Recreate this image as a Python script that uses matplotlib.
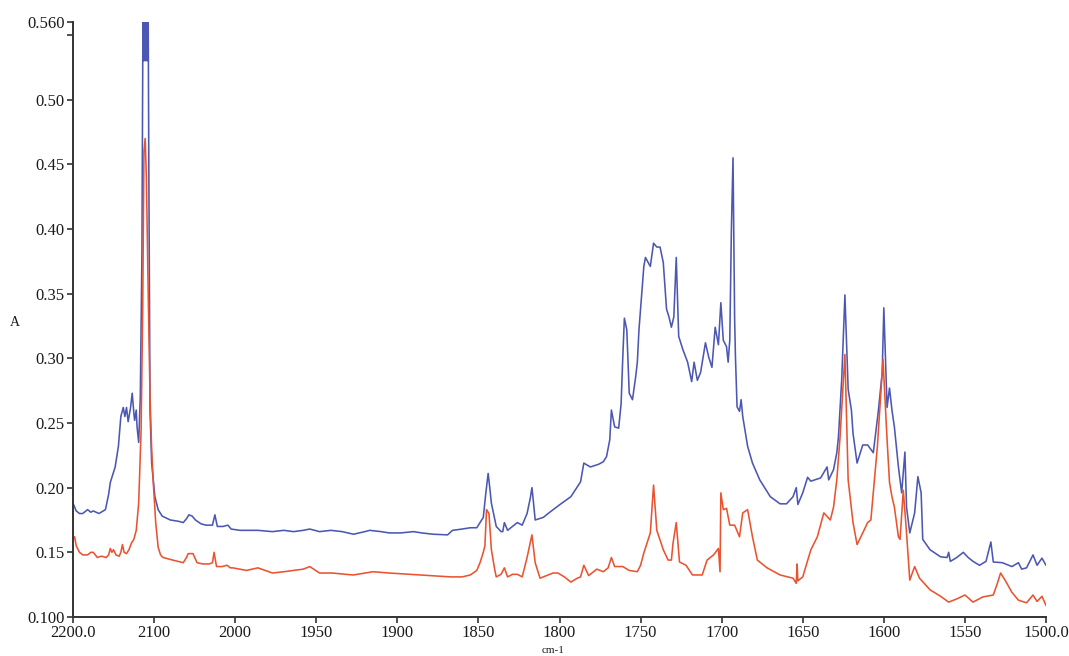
import numpy as np
import matplotlib
matplotlib.use("Agg")
import matplotlib.pyplot as plt

# wavenumber (cm-1) / absorbance pairs
blue_wn = [2200, 2196, 2192, 2188, 2182, 2178, 2175, 2168, 2160, 2156, 2154, 2150, 2148, 2144,
           2141, 2138, 2136, 2134, 2132, 2129, 2127, 2125, 2124, 2122, 2121, 2119, 2117, 2115,
           2113.5, 2112.5, 2111.5, 2110.5, 2109.5, 2108.5, 2107.5, 2106.5, 2105, 2103, 2099,
           2095, 2090, 2080, 2070, 2064, 2060, 2057, 2053, 2049, 2042, 2036, 2028, 2025, 2022,
           2015, 2009, 2005, 1997, 1990, 1986, 1977, 1970, 1964, 1958, 1954, 1948, 1941, 1934,
           1927, 1920, 1917, 1910, 1905, 1898, 1890, 1885, 1878, 1869, 1866, 1860, 1855, 1851,
           1848, 1847, 1845.5, 1844, 1843, 1842, 1839, 1836, 1835, 1834, 1832, 1829, 1826, 1823,
           1820, 1818, 1817, 1816, 1815, 1810, 1806, 1800, 1793, 1787, 1785, 1781, 1776, 1773,
           1771, 1769, 1768, 1766, 1763.5, 1762, 1761, 1760, 1758.5, 1757, 1755, 1753, 1752,
           1751, 1748, 1747, 1744, 1742, 1740, 1738, 1736, 1734, 1732.5, 1731, 1729.5, 1728,
           1726.5, 1724, 1721, 1718.5, 1717, 1715, 1713, 1710, 1708, 1706, 1704, 1702, 1700.5,
           1699, 1697, 1696, 1695, 1694, 1693, 1692, 1691.5, 1690.5, 1689, 1688, 1687, 1684,
           1681, 1676.5, 1670, 1664, 1660, 1656, 1654, 1653, 1650, 1647, 1645, 1639, 1635, 1634,
           1631, 1629, 1628, 1626, 1624, 1622, 1620, 1619, 1616.5, 1613, 1610, 1606.5, 1603.5,
           1601, 1600, 1598, 1596.5, 1595, 1593.5, 1591, 1589, 1587, 1586, 1584, 1581, 1579,
           1577, 1576, 1571.5, 1565, 1561, 1560, 1559, 1555, 1551, 1548, 1545, 1541, 1537, 1534,
           1532.5, 1527, 1521, 1517, 1515, 1512, 1508, 1505.5, 1502.5, 1500]
blue_abs = [0.188, 0.182, 0.180, 0.180, 0.183, 0.181, 0.182, 0.180, 0.183, 0.195, 0.204, 0.212,
            0.216, 0.232, 0.255, 0.262, 0.255, 0.262, 0.251, 0.262, 0.273, 0.258, 0.252, 0.260,
            0.247, 0.235, 0.27, 0.38, 0.60, 0.53, 0.60, 0.53, 0.60, 0.53, 0.60, 0.45, 0.260,
            0.219, 0.193, 0.183, 0.178, 0.175, 0.174, 0.173, 0.176, 0.179, 0.178, 0.175, 0.172,
            0.171, 0.171, 0.179, 0.170, 0.170, 0.171, 0.168, 0.167, 0.167, 0.167, 0.166, 0.167,
            0.166, 0.167, 0.168, 0.166, 0.167, 0.166, 0.164, 0.166, 0.167, 0.166, 0.165, 0.165,
            0.166, 0.165, 0.164, 0.1635, 0.167, 0.168, 0.169, 0.169, 0.175, 0.177, 0.195, 0.211,
            0.200, 0.188, 0.170, 0.166, 0.166, 0.173, 0.167, 0.170, 0.173, 0.171, 0.180, 0.192,
            0.200, 0.188, 0.175, 0.177, 0.181, 0.1867, 0.193, 0.2045, 0.219, 0.216, 0.218, 0.220,
            0.224, 0.237, 0.260, 0.247, 0.246, 0.265, 0.300, 0.331, 0.322, 0.273, 0.268, 0.286,
            0.297, 0.322, 0.371, 0.378, 0.371, 0.389, 0.386, 0.386, 0.374, 0.338, 0.332, 0.324,
            0.332, 0.378, 0.317, 0.307, 0.297, 0.282, 0.297, 0.283, 0.289, 0.312, 0.301, 0.293,
            0.324, 0.3105, 0.343, 0.314, 0.309, 0.297, 0.314, 0.40, 0.455, 0.33, 0.301, 0.2625,
            0.259, 0.268, 0.255, 0.232, 0.219, 0.206, 0.193, 0.1875, 0.1875, 0.193, 0.200, 0.187,
            0.196, 0.208, 0.205, 0.2075, 0.216, 0.206, 0.214, 0.227, 0.239, 0.283, 0.349, 0.276,
            0.260, 0.242, 0.219, 0.233, 0.233, 0.227, 0.258, 0.289, 0.339, 0.262, 0.277, 0.260,
            0.247, 0.216, 0.196, 0.2275, 0.185, 0.165, 0.1805, 0.2085, 0.196, 0.160, 0.152,
            0.1465, 0.146, 0.150, 0.143, 0.146, 0.150, 0.146, 0.143, 0.140, 0.143, 0.158, 0.1425,
            0.142, 0.139, 0.142, 0.137, 0.138, 0.148, 0.140, 0.1455, 0.140]

red_wn = [2200, 2198, 2196, 2192, 2188, 2182, 2178, 2175, 2170, 2165, 2159, 2156, 2154, 2152,
          2150, 2147, 2143, 2141, 2139, 2137, 2134, 2131, 2128, 2125, 2122, 2119, 2116, 2114,
          2112.5, 2111, 2109.5, 2107.5, 2105, 2103, 2101, 2098, 2095, 2092, 2089, 2077, 2064,
          2060, 2058, 2052, 2047, 2040, 2032, 2028, 2026, 2023, 2016, 2010, 2006, 2003, 1993,
          1986, 1977, 1970, 1964, 1958, 1954, 1948, 1940, 1932, 1927, 1920, 1915, 1905, 1892,
          1880, 1867, 1860, 1855, 1851, 1849, 1847, 1846, 1845, 1843.5, 1842, 1840, 1839, 1836,
          1834, 1832, 1829, 1826, 1823, 1820, 1817, 1815, 1812, 1808, 1804, 1801, 1797, 1793,
          1789, 1787, 1785, 1782, 1777, 1773, 1770, 1768, 1766, 1761, 1757, 1752, 1750, 1748,
          1744, 1742, 1740, 1736, 1733, 1731, 1730, 1728, 1726, 1722, 1718, 1712, 1709, 1705,
          1702, 1701, 1700.5, 1699, 1697, 1695, 1692, 1689, 1687, 1684, 1681, 1678, 1672, 1664,
          1656, 1654, 1653.5, 1653, 1650, 1645, 1641, 1637, 1633, 1631, 1629, 1627, 1624, 1622,
          1619, 1616.5, 1613, 1610, 1608, 1604, 1600.5, 1598, 1596.5, 1595, 1593.5, 1591, 1590,
          1588, 1586, 1584, 1581, 1578, 1571.5, 1565, 1560, 1555, 1550, 1545, 1539, 1532.5,
          1530, 1528, 1525, 1521, 1517, 1512, 1508, 1505.5, 1502.5, 1500]
red_abs = [0.160, 0.162, 0.155, 0.150, 0.148, 0.148, 0.150, 0.150, 0.146, 0.147, 0.146, 0.148,
           0.153, 0.150, 0.152, 0.148, 0.147, 0.150, 0.156, 0.150, 0.149, 0.152, 0.157, 0.160,
           0.167, 0.188, 0.245, 0.34, 0.46, 0.47, 0.44, 0.36, 0.27, 0.23, 0.204, 0.173, 0.154,
           0.148, 0.146, 0.144, 0.142, 0.146, 0.149, 0.149, 0.142, 0.141, 0.141, 0.142, 0.150,
           0.139, 0.139, 0.140, 0.138, 0.138, 0.136, 0.138, 0.134, 0.135, 0.136, 0.137, 0.139,
           0.134, 0.134, 0.133, 0.1325, 0.134, 0.135, 0.134, 0.133, 0.132, 0.131, 0.131, 0.1325,
           0.136, 0.142, 0.150, 0.155, 0.183, 0.180, 0.152, 0.137, 0.131, 0.133, 0.138, 0.131,
           0.133, 0.133, 0.131, 0.146, 0.1635, 0.142, 0.130, 0.132, 0.134, 0.134, 0.131, 0.127,
           0.130, 0.131, 0.140, 0.132, 0.137, 0.135, 0.138, 0.146, 0.139, 0.139, 0.136, 0.135,
           0.140, 0.1495, 0.165, 0.202, 0.167, 0.152, 0.144, 0.144, 0.157, 0.173, 0.1425, 0.140,
           0.1325, 0.1325, 0.144, 0.148, 0.153, 0.135, 0.196, 0.183, 0.184, 0.171, 0.171, 0.162,
           0.1805, 0.183, 0.162, 0.144, 0.138, 0.1325, 0.130, 0.126, 0.141, 0.128, 0.131, 0.152,
           0.162, 0.1805, 0.175, 0.185, 0.206, 0.239, 0.303, 0.206, 0.173, 0.156, 0.165, 0.173,
           0.175, 0.2315, 0.299, 0.237, 0.204, 0.193, 0.185, 0.162, 0.160, 0.198, 0.165, 0.1285,
           0.139, 0.130, 0.121, 0.116, 0.1115, 0.114, 0.117, 0.1115, 0.1155, 0.117, 0.126, 0.134,
           0.128, 0.119, 0.113, 0.111, 0.117, 0.112, 0.116, 0.109]

x_ticks = [2200, 2100, 2000, 1950, 1900, 1850, 1800, 1750, 1700, 1650, 1600, 1550, 1500]
x_labels = ['2200.0', '2100', '2000', '1950', '1900', '1850', '1800', '1750', '1700',
            '1650', '1600', '1550', '1500.0']
y_ticks = [0.10, 0.15, 0.20, 0.25, 0.30, 0.35, 0.40, 0.45, 0.50, 0.55, 0.56]
y_labels = ['0.100', '0.15', '0.20', '0.25', '0.30', '0.35', '0.40', '0.45', '0.50', '', '0.560']


# spectrometer style axis: 2200-2000 compressed by a factor of two
def fwd(w):
    w = np.asarray(w, dtype=float)
    return np.where(w > 2000, 2000 + (w - 2000) / 2.0, w)


def inv(p):
    p = np.asarray(p, dtype=float)
    return np.where(p > 2000, 2000 + (p - 2000) * 2.0, p)


plt.rcParams['font.family'] = ['Liberation Serif', 'DejaVu Serif']

fig = plt.figure(figsize=(10.69, 6.56), dpi=100)
ax = fig.add_axes([73 / 1069, 1 - 617 / 656, (1046 - 73) / 1069, (617 - 22) / 656])

ax.plot(blue_wn, blue_abs, color='#4c57b3', lw=1.15)
ax.plot(red_wn, red_abs, color='#ea5330', lw=1.15)

ax.set_xscale('function', functions=(fwd, inv))
ax.set_xlim(2200, 1500)
ax.set_ylim(0.10, 0.56)

ax.set_xticks(x_ticks)
ax.set_xticklabels(x_labels)
ax.set_yticks(y_ticks)
ax.set_yticklabels(y_labels)
ax.minorticks_off()

for s in ['top', 'right']:
    ax.spines[s].set_visible(False)
for s in ['left', 'bottom']:
    ax.spines[s].set_color('#333333')
    ax.spines[s].set_linewidth(1.4)

ax.tick_params(axis='both', direction='out', length=4, width=1.2, color='#333333',
               labelsize=12, labelcolor='#1a1a1a', pad=2)

fig.text(15 / 1069, 1 - 322 / 656, 'A', fontsize=10, color='#1a1a1a', ha='center', va='center')
fig.text(553 / 1069, 1 - 646 / 656, 'cm-1', fontsize=8, color='#1a1a1a', ha='center', va='top')

fig.savefig('out.png', dpi=100, facecolor='white')
